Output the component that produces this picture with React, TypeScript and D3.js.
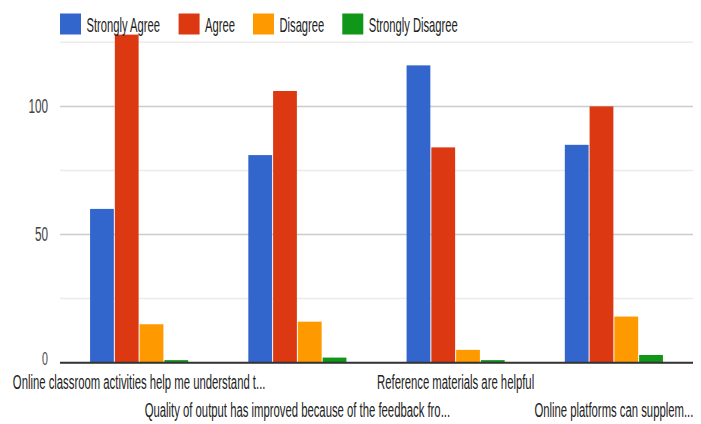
import React from "react";
import * as d3 from "d3";

const categories = [
  "Online classroom activities help me understand t...",
  "Quality of output has improved because of the feedback fro...",
  "Reference materials are helpful",
  "Online platforms can supplem...",
];
const seriesNames = ["Strongly Agree", "Agree", "Disagree", "Strongly Disagree"];
const stronglyAgree = [60, 81, 116, 85];
const agree = [128, 106, 84, 100];
const disagree = [15, 16, 5, 18];
const stronglyDisagree = [1, 2, 1, 3];
const colors = ["#3366cc", "#dc3912", "#ff9900", "#109618"];
const majorTicks = [0, 50, 100];
const minorTicks = [25, 75, 125];

const W = 701;
const H = 424;
const SX = 0.56;
const FONT = "'Liberation Sans', Arial, sans-serif";

function measure(text: string, size: number): number {
  const c = document.createElement("canvas").getContext("2d");
  if (!c) return text.length * size * 0.5;
  c.font = `${size}px ${FONT}`;
  return c.measureText(text).width;
}

export default function App() {
  const series = [stronglyAgree, agree, disagree, stronglyDisagree];
  const left = 60;
  const right = 693;
  const y = d3.scaleLinear().domain([0, 125]).range([362.7, 42.3]);
  const x0 = d3
    .scaleBand<string>()
    .domain(categories)
    .range([left, right])
    .paddingInner(0.38)
    .paddingOuter(0.19);
  const x1 = d3
    .scaleBand<number>()
    .domain(d3.range(seriesNames.length))
    .range([0, x0.bandwidth()])
    .paddingInner(0.04);

  // legend layout
  const legendFont = 20;
  const sq = 21;
  let cursor = left;
  const legendItems = seriesNames.map((name, i) => {
    const tw = measure(name, legendFont) * SX;
    const item = { name, x: cursor, color: colors[i] };
    cursor += sq + 5.5 + tw + 18;
    return item;
  });

  return (
    <svg
      width={W}
      height={H}
      style={{ position: "absolute", left: 0, top: 0, background: "#fff" }}
    >
      {minorTicks.map((t) => (
        <line key={"m" + t} x1={left} x2={right} y1={y(t)} y2={y(t)} stroke="#ebebeb" strokeWidth={1.5} />
      ))}
      {majorTicks.map((t) => (
        <line key={"M" + t} x1={left} x2={right} y1={y(t)} y2={y(t)} stroke="#cccccc" strokeWidth={1.5} />
      ))}
      {categories.map((c, ci) => (
        <g key={c} transform={`translate(${x0(c)},0)`}>
          {series.map((s, si) => (
            <rect
              key={si}
              x={x1(si)}
              y={y(s[ci])}
              width={x1.bandwidth()}
              height={y(0) - y(s[ci])}
              fill={colors[si]}
            />
          ))}
        </g>
      ))}
      <line x1={left} x2={right} y1={y(0)} y2={y(0)} stroke="#333" strokeWidth={2} />
      {majorTicks.map((t) => (
        <text
          key={"l" + t}
          transform={`translate(48,${y(t) - (t === 0 ? 4 : 0)}) scale(${SX},1)`}
          textAnchor="end"
          dominantBaseline="central"
          fontFamily={FONT}
          fontSize={t === 0 ? 19 : 21}
          fill="#444"
        >
          {t}
        </text>
      ))}
      {categories.map((c, ci) => (
        <text
          key={"c" + ci}
          transform={`translate(${(x0(c) as number) + x0.bandwidth() / 2},${ci % 2 === 0 ? 388.5 : 417}) scale(${SX},1)`}
          textAnchor="middle"
          fontFamily={FONT}
          fontSize={20.2}
          fill="#222"
        >
          {c}
        </text>
      ))}
      {legendItems.map((it) => (
        <g key={it.name}>
          <rect x={it.x} y={13.5} width={sq} height={sq} fill={it.color} />
          <text
            transform={`translate(${it.x + sq + 5.5},32) scale(${SX},1)`}
            fontFamily={FONT}
            fontSize={legendFont}
            fill="#222"
          >
            {it.name}
          </text>
        </g>
      ))}
    </svg>
  );
}
